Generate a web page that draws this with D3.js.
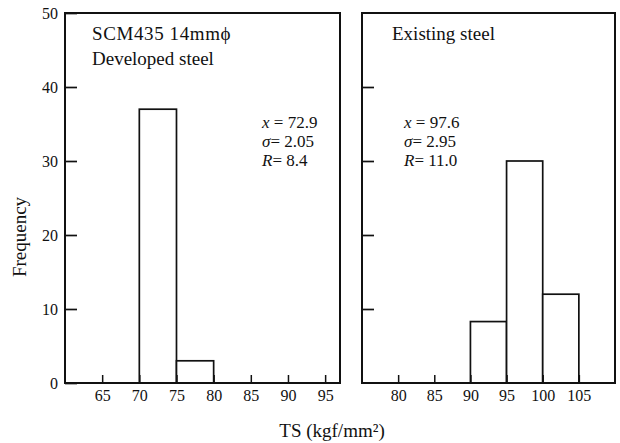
<!DOCTYPE html>
<html>
<head>
<meta charset="utf-8">
<script src="https://cdn.jsdelivr.net/npm/d3@7"></script>
<style>
  body { margin: 0; background: #fff; }
</style>
</head>
<body>
<svg width="620" height="443"></svg>
<script>
// histogram data, bins are 5 kgf/mm2 wide
const binWidth = 5
const devBins = [70, 75]
const devFreq = [37, 3]
const exBins = [90, 95, 100]
const exFreq = [8.3, 30, 12]

const yTicks = [0, 10, 20, 30, 40, 50]
const devTicks = [65, 70, 75, 80, 85, 90, 95]
const exTicks = [80, 85, 90, 95, 100, 105]

const devStats = [['x', ' = 72.9'], ['σ', '= 2.05'], ['R', '= 8.4']]
const exStats = [['x', ' = 97.6'], ['σ', '= 2.95'], ['R', '= 11.0']]

const serif = '"Liberation Serif", "DejaVu Serif", serif'

const svg = d3.select('svg')
    .style('font-family', serif)

const plotTop = 13
const plotBottom = 383

const yscale = d3.scaleLinear()
    .domain([0, 50])
    .range([plotBottom, plotTop])

const panels = [
    {bins: devBins, freq: devFreq, ticks: devTicks, domain: [60, 97], range: [65, 340],
     title: ['SCM435 14mm\u03d5', 'Developed steel'], titleX: 92, stats: devStats, statsX: 262, labels: true},
    {bins: exBins, freq: exFreq, ticks: exTicks, domain: [75, 110], range: [362, 615],
     title: ['Existing steel'], titleX: 392, stats: exStats, statsX: 404, labels: false}
]

panels.forEach(p => {
    const xscale = d3.scaleLinear().domain(p.domain).range(p.range)
    const g = svg.append('g')

    // staven
    g.selectAll('rect.bar').data(p.bins)
        .enter()
        .append('rect')
            .attr('class', 'bar')
            .attr('x', d => xscale(d))
            .attr('y', (d, i) => yscale(p.freq[i]))
            .attr('width', d => xscale(d + binWidth) - xscale(d))
            .attr('height', (d, i) => plotBottom - yscale(p.freq[i]))
            .attr('fill', '#fff')
            .attr('stroke', '#111')
            .attr('stroke-width', 1.7)

    // y-as, ticks naar binnen
    const yAxis = d3.axisLeft(yscale)
        .tickValues(p.labels ? yTicks : yTicks.slice(1, 5))
        .tickSize(-12)
        .tickPadding(7)
        .tickFormat(p.labels ? d3.format('d') : '')
    const ya = g.append('g')
        .attr('transform', `translate(${p.range[0]}, 0)`)
        .call(yAxis)
        .attr('font-family', serif)
        .attr('font-size', 16)
    ya.select('.domain').remove()
    ya.selectAll('line').attr('stroke', '#111').attr('stroke-width', 1.7)
    ya.selectAll('text').attr('fill', '#111')

    // x-as
    const xAxis = d3.axisBottom(xscale)
        .tickValues(p.ticks)
        .tickSize(-8)
        .tickPadding(7)
    const xa = g.append('g')
        .attr('transform', `translate(0, ${plotBottom})`)
        .call(xAxis)
        .attr('font-family', serif)
        .attr('font-size', 16)
    xa.select('.domain').remove()
    xa.selectAll('line').attr('stroke', '#111').attr('stroke-width', 1.5)
    xa.selectAll('text').attr('fill', '#111')

    // kader
    g.append('rect')
        .attr('x', p.range[0])
        .attr('y', plotTop)
        .attr('width', p.range[1] - p.range[0])
        .attr('height', plotBottom - plotTop)
        .attr('fill', 'none')
        .attr('stroke', '#111')
        .attr('stroke-width', 2)

    p.title.forEach((t, i) => {
        g.append('text')
            .attr('x', p.titleX)
            .attr('y', 40 + i * 25)
            .attr('fill', '#111')
            .style('font-size', '19px')
            .style('letter-spacing', i == 0 && p.labels ? '0.6px' : null)
            .text(t)
    })

    // x, sigma en R
    p.stats.forEach((s, i) => {
        const txt = g.append('text')
            .attr('x', p.statsX)
            .attr('y', 128 + i * 19)
            .attr('fill', '#111')
            .style('font-size', '17px')
        txt.append('tspan').style('font-style', 'italic').text(s[0])
        txt.append('tspan').text(s[1])
    })
})

svg.append('text')
    .attr('transform', 'translate(26, 237) rotate(-90)')
    .attr('text-anchor', 'middle')
    .attr('fill', '#111')
    .style('font-size', '19px')
    .text('Frequency')

svg.append('text')
    .attr('x', 332)
    .attr('y', 437)
    .attr('text-anchor', 'middle')
    .attr('fill', '#111')
    .style('font-size', '19px')
    .text('TS (kgf/mm\u00b2)')
</script>
</body>
</html>
